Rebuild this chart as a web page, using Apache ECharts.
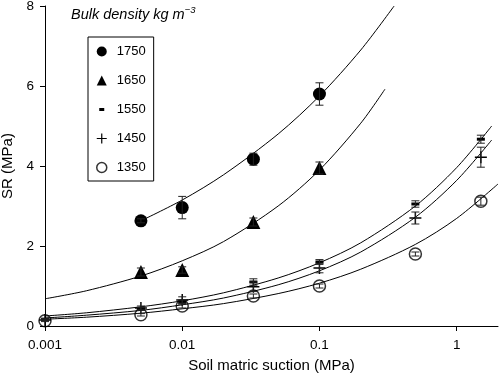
<!DOCTYPE html>
<html>
<head>
<meta charset="utf-8">
<script src="https://cdn.jsdelivr.net/npm/echarts@6/dist/echarts.min.js"></script>
<style>
html, body { margin: 0; padding: 0; background: #fff; }
#chart { width: 500px; height: 378px; }
</style>
</head>
<body>
<div id="chart"></div>
<script>
// bulk density classes (kg m-3)
var names = ['1750', '1650', '1550', '1450', '1350'];

// measured points (suction MPa, SR MPa, error)
var x_hi = [0.005, 0.01, 0.033, 0.1];
var y1750 = [2.63, 2.96, 4.17, 5.8];
var e1750 = [0.05, 0.28, 0.15, 0.28];
var y1650 = [1.35, 1.4, 2.6, 3.95];
var e1650 = [0.1, 0.08, 0.1, 0.15];

var x_lo = [0.001, 0.005, 0.01, 0.033, 0.1, 0.5, 1.5];
var y1550 = [0.17, 0.43, 0.6, 1.1, 1.6, 3.05, 4.67];
var e1550 = [0.02, 0.03, 0.05, 0.08, 0.06, 0.08, 0.1];
var y1450 = [0.15, 0.45, 0.65, 0.98, 1.45, 2.7, 4.22];
var e1450 = [0.02, 0.05, 0.08, 0.12, 0.12, 0.15, 0.25];
var y1350 = [0.13, 0.28, 0.5, 0.75, 1.0, 1.8, 3.12];
var e1350 = [0.02, 0.03, 0.05, 0.05, 0.05, 0.05, 0.1];

// fitted curves
var cx1750 = [0.005, 0.01, 0.02, 0.05, 0.1, 0.2, 0.35];
var cy1750 = [2.63, 3.15, 3.78, 4.8, 5.75, 6.9, 8.0];
var cx1650 = [0.001, 0.002, 0.005, 0.01, 0.02, 0.05, 0.1, 0.2, 0.3];
var cy1650 = [0.68, 0.88, 1.25, 1.63, 2.11, 3.0, 3.9, 5.07, 5.92];
var cx_lo = [0.001, 0.002, 0.005, 0.01, 0.02, 0.05, 0.1, 0.2, 0.5, 1, 1.8];
var cy1550 = [0.25, 0.33, 0.48, 0.63, 0.83, 1.2, 1.58, 2.08, 3.0, 3.96, 5.0];
var cy1450 = [0.2, 0.27, 0.39, 0.53, 0.7, 1.03, 1.38, 1.85, 2.72, 3.64, 4.65];
var cx1350 = [0.001, 0.002, 0.005, 0.01, 0.02, 0.05, 0.1, 0.2, 0.5, 1, 2];
var cy1350 = [0.17, 0.22, 0.32, 0.43, 0.56, 0.81, 1.07, 1.42, 2.04, 2.69, 3.55];

var FONT = 'Liberation Sans';
var plusPath = 'path://M4.4,0h1.2v4.4h4.4v1.2h-4.4v4.4h-1.2v-4.4h-4.4v-1.2h4.4z';
var dashIcon = 'path://M0,0L0.01,0M2.5,3.5H7.5V6.5H2.5ZM10,10L9.99,10';
var ring = { color: 'rgba(0,0,0,0)', borderColor: '#000', borderWidth: 1.5 };

function pairs(xs, ys) {
    var out = [];
    for (var i = 0; i < xs.length; i++) out.push([xs[i], ys[i]]);
    return out;
}

function curve(xs, ys) {
    return {
        type: 'line', data: pairs(xs, ys), smooth: 0.3, symbol: 'none', silent: true, z: 2,
        lineStyle: { color: '#000', width: 1 }
    };
}

function errBars(xs, ys, es) {
    var d = [];
    for (var i = 0; i < xs.length; i++) d.push([xs[i], ys[i], es[i]]);
    return {
        type: 'custom', data: d, silent: true, z: 4,
        renderItem: function (params, api) {
            var x = api.value(0), y = api.value(1), e = api.value(2);
            var a = api.coord([x, y + e]), b = api.coord([x, y - e]);
            var w = 4, st = { stroke: '#222', lineWidth: 1 };
            return {
                type: 'group', children: [
                    { type: 'line', shape: { x1: a[0], y1: a[1], x2: b[0], y2: b[1] }, style: st },
                    { type: 'line', shape: { x1: a[0] - w, y1: a[1], x2: a[0] + w, y2: a[1] }, style: st },
                    { type: 'line', shape: { x1: b[0] - w, y1: b[1], x2: b[0] + w, y2: b[1] }, style: st }
                ]
            };
        }
    };
}

function pts(name, xs, ys, symbol, size, style) {
    return {
        name: name, type: 'scatter', data: pairs(xs, ys), symbol: symbol, symbolSize: size, z: 3,
        itemStyle: style || { color: '#000', opacity: 1 }
    };
}

var chart = echarts.init(document.getElementById('chart'));
var option = {
    animation: false,
    backgroundColor: '#fff',
    grid: { left: 45, right: 2, top: 6, bottom: 52, outerBoundsMode: 'none', containLabel: false },
    graphic: [{
        type: 'text', left: 71, top: 5,
        style: {
            text: '{a|Bulk density kg m}{b|\u22123}',
            rich: {
                a: { fontSize: 14.5, fontStyle: 'italic', fontFamily: FONT, fill: '#000' },
                b: { fontSize: 9.5, fontStyle: 'italic', fontFamily: FONT, fill: '#000', padding: [0, 0, 9, 0] }
            }
        }
    }],
    legend: {
        orient: 'vertical', left: 88, top: 37,
        itemWidth: 10, itemHeight: 10, itemGap: 16,
        padding: [8, 8, 7, 8],
        borderColor: '#000', borderWidth: 1,
        textStyle: { fontSize: 13, color: '#000', fontFamily: FONT, padding: [0, 0, 0, 5] },
        data: [
            { name: '1750', icon: 'circle' },
            { name: '1650', icon: 'triangle' },
            { name: '1550', icon: dashIcon },
            { name: '1450', icon: plusPath },
            { name: '1350', icon: 'circle', itemStyle: ring }
        ]
    },
    xAxis: {
        type: 'log', logBase: 10, min: 0.001, max: 2,
        name: 'Soil matric suction (MPa)', nameLocation: 'middle', nameGap: 32,
        nameTextStyle: { fontSize: 15, color: '#000', fontFamily: FONT },
        axisLine: { lineStyle: { color: '#000', width: 1 } },
        axisTick: { length: 5, lineStyle: { color: '#000' } },
        axisLabel: { fontSize: 13.5, color: '#000', fontFamily: FONT, margin: 12, showMaxLabel: false },
        minorTick: { show: false },
        splitLine: { show: false }
    },
    yAxis: {
        type: 'value', min: 0, max: 8, interval: 2,
        name: 'SR (MPa)', nameLocation: 'middle', nameGap: 28,
        nameTextStyle: { fontSize: 15, color: '#000', fontFamily: FONT },
        axisLine: { show: true, lineStyle: { color: '#000', width: 1 } },
        axisTick: { show: true, length: 5, lineStyle: { color: '#000' } },
        axisLabel: { fontSize: 13.5, color: '#000', fontFamily: FONT, margin: 11 },
        splitLine: { show: false }
    },
    series: [
        curve(cx1750, cy1750),
        curve(cx1650, cy1650),
        curve(cx_lo, cy1550),
        curve(cx_lo, cy1450),
        curve(cx1350, cy1350),
        errBars(x_hi, y1750, e1750),
        errBars(x_hi, y1650, e1650),
        errBars(x_lo, y1550, e1550),
        errBars(x_lo, y1450, e1450),
        errBars(x_lo, y1350, e1350),
        pts('1750', x_hi, y1750, 'circle', 13),
        pts('1650', x_hi, y1650, 'triangle', 14),
        pts('1550', x_lo, y1550, 'rect', [8, 3]),
        pts('1450', x_lo, y1450, plusPath, 12),
        pts('1350', x_lo, y1350, 'circle', 12, ring)
    ]
};
chart.setOption(option);
</script>
</body>
</html>
